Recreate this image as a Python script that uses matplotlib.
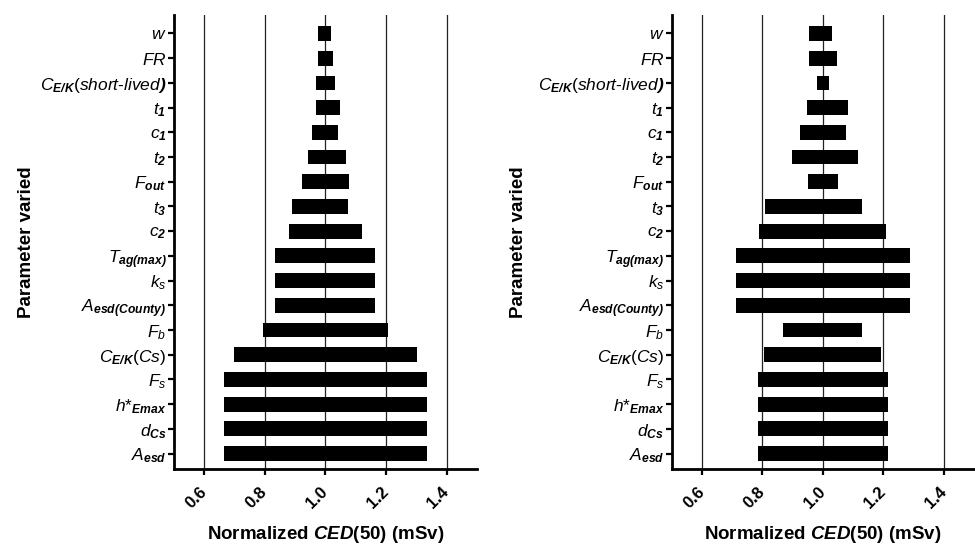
import matplotlib
matplotlib.use("Agg")
import matplotlib.pyplot as plt

plt.rcParams['font.family'] = ['Liberation Sans', 'DejaVu Sans']
plt.rcParams['mathtext.fontset'] = 'custom'
plt.rcParams['mathtext.rm'] = 'Liberation Sans'
plt.rcParams['mathtext.it'] = 'Liberation Sans:italic'
plt.rcParams['mathtext.bf'] = 'Liberation Sans:bold'
plt.rcParams['mathtext.bfit'] = 'Liberation Sans:italic:bold'

# parameters, listed top to bottom
params = [
    r'$\mathit{w}$',
    r'$\mathit{FR}$',
    r'$\mathit{C}_{\mathbfit{E/K}}\mathit{(short‐lived}\mathbfit{)}$',
    r'$\mathit{t}_{\mathbfit{1}}$',
    r'$\mathit{c}_{\mathbfit{1}}$',
    r'$\mathit{t}_{\mathbfit{2}}$',
    r'$\mathit{F}_{\mathbfit{out}}$',
    r'$\mathit{t}_{\mathbfit{3}}$',
    r'$\mathit{c}_{\mathbfit{2}}$',
    r'$\mathit{T}_{\mathbfit{ag(max)}}$',
    r'$\mathit{k}_{\mathit{s}}$',
    r'$\mathit{A}_{\mathbfit{esd(County)}}$',
    r'$\mathit{F}_{\mathit{b}}$',
    r'$\mathit{C}_{\mathbfit{E/K}}\mathit{(Cs)}$',
    r'$\mathit{F}_{\mathit{s}}$',
    r'$\mathit{h}{*}_{\mathbfit{Emax}}$',
    r'$\mathit{d}_{\mathbfit{Cs}}$',
    r'$\mathit{A}_{\mathbfit{esd}}$',
]

# left panel: low / high normalized CED(50)
left_low = [0.975, 0.976, 0.969, 0.970, 0.957, 0.941, 0.924, 0.890, 0.879,
            0.835, 0.835, 0.835, 0.794, 0.697, 0.665, 0.665, 0.665, 0.665]
left_high = [1.017, 1.024, 1.031, 1.048, 1.043, 1.067, 1.077, 1.074, 1.121,
             1.165, 1.165, 1.165, 1.206, 1.303, 1.335, 1.335, 1.335, 1.335]

# right panel
right_low = [0.954, 0.955, 0.979, 0.947, 0.924, 0.898, 0.950, 0.809, 0.788,
             0.713, 0.713, 0.713, 0.868, 0.806, 0.786, 0.786, 0.786, 0.786]
right_high = [1.029, 1.045, 1.020, 1.084, 1.076, 1.117, 1.050, 1.130, 1.210,
              1.287, 1.287, 1.287, 1.131, 1.193, 1.214, 1.214, 1.214, 1.214]

xticks = [0.6, 0.8, 1.0, 1.2, 1.4]


def draw_panel(ax, low, high):
    n = len(params)
    ypos = [n - 1 - i for i in range(n)]
    widths = [h - l for l, h in zip(low, high)]
    ax.barh(ypos, widths, left=low, height=0.6, color='black', zorder=3)
    ax.set_xlim(0.5, 1.5)
    ax.set_ylim(-0.62, n - 1 + 0.75)
    ax.set_xticks(xticks)
    ax.set_xticklabels([f'{v:.1f}' for v in xticks], rotation=45, ha='right',
                       va='center', rotation_mode='anchor', fontweight='bold',
                       fontsize=12)
    ax.set_yticks(ypos)
    ax.set_yticklabels(params, fontsize=12.5)
    ax.grid(axis='x', color='#222222', lw=0.9)
    ax.set_axisbelow(True)
    for s in ['top', 'right']:
        ax.spines[s].set_visible(False)
    for s in ['left', 'bottom']:
        ax.spines[s].set_linewidth(2)
    ax.tick_params(axis='both', direction='out', length=4.5, width=1.6)
    ax.tick_params(axis='x', pad=10)
    ax.tick_params(axis='y', pad=1)
    ax.set_xlabel(r'Normalized $\mathbfit{CED}$(50) (mSv)', fontweight='bold',
                  fontsize=13.5)
    ax.set_ylabel('Parameter varied', fontweight='bold', fontsize=13.5)
    ax.xaxis.set_label_coords(0.5, -0.122)


fig = plt.figure(figsize=(9.75, 5.44), dpi=100)
ax1 = fig.add_axes([0.1785, 0.138, 0.3105, 0.8345])
ax2 = fig.add_axes([0.689, 0.138, 0.310, 0.8345])
draw_panel(ax1, left_low, left_high)
draw_panel(ax2, right_low, right_high)
ax1.yaxis.set_label_coords(-0.46, 0.5)
ax2.yaxis.set_label_coords(-0.48, 0.5)

fig.savefig('out.png', dpi=100)
